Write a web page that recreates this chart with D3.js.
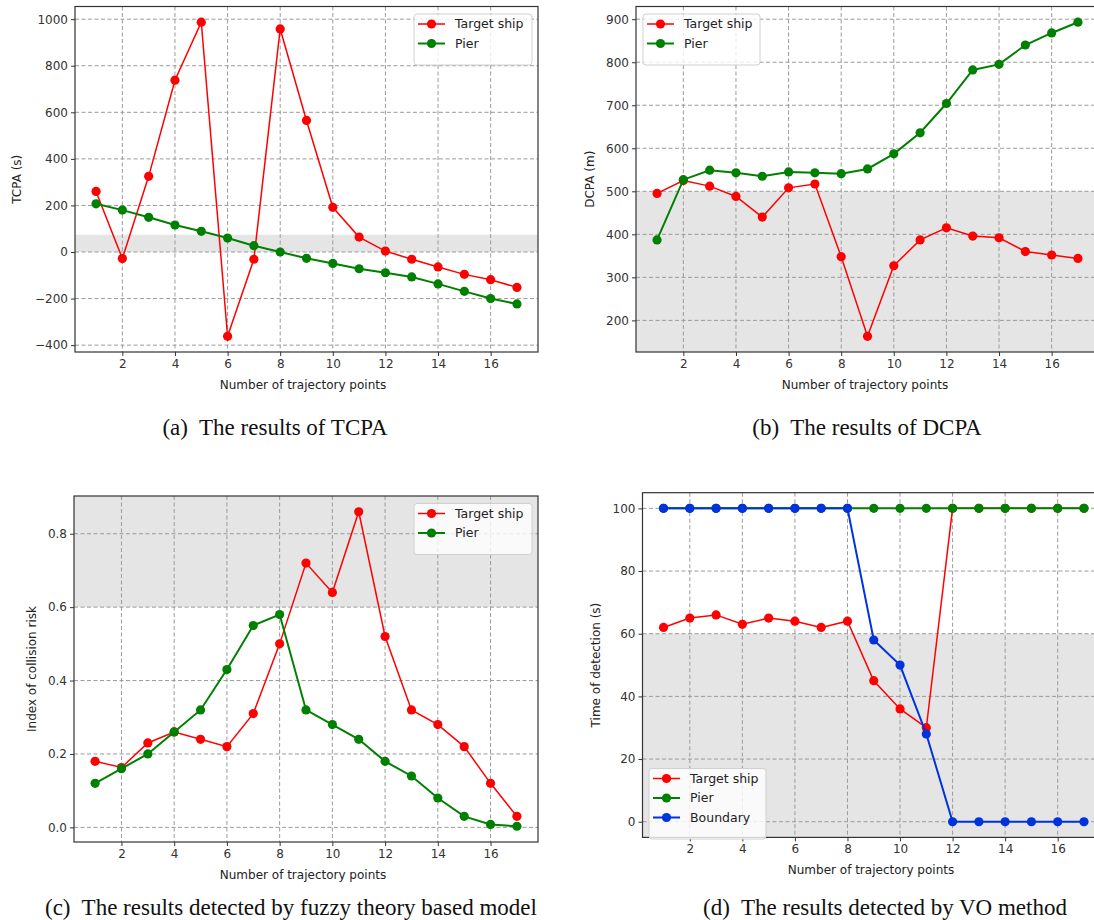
<!DOCTYPE html>
<html>
<head>
<meta charset="utf-8">
<script src="https://cdn.jsdelivr.net/npm/d3@7"></script>
<style>
  html, body { margin: 0; padding: 0; background: #fff; }
  svg { display: block; }
  .cap { white-space: pre; }
</style>
</head>
<body>
<svg id="chart" width="1094" height="920"></svg>
<script>
// ---------------- DATA ----------------
const trajectoryPoints = [1, 2, 3, 4, 5, 6, 7, 8, 9, 10, 11, 12, 13, 14, 15, 16, 17];
const xTicks = [2, 4, 6, 8, 10, 12, 14, 16];

const tcpaTarget = [260, -28, 325, 738, 987, -362, -31, 958, 565, 192, 64, 4, -31, -64, -96, -119, -152];
const tcpaPier   = [207, 180, 149, 116, 89, 60, 27, 0, -27, -49, -72, -89, -107, -137, -169, -200, -223];
const tcpaTicks  = [-400, -200, 0, 200, 400, 600, 800, 1000];
const tcpaBand   = [0, 74];

const dcpaTarget = [495, 525, 512, 488, 440, 508, 517, 348, 163, 327, 387, 415, 396, 392, 360, 352, 344];
const dcpaPier   = [387, 527, 549, 543, 535, 545, 543, 541, 552, 587, 636, 704, 782, 795, 840, 868, 893];
const dcpaTicks  = [200, 300, 400, 500, 600, 700, 800, 900];
const dcpaBand   = [null, 500];

const fuzzyTarget = [0.18, 0.163, 0.23, 0.26, 0.24, 0.22, 0.31, 0.50, 0.72, 0.64, 0.86, 0.52, 0.32, 0.28, 0.22, 0.12, 0.03];
const fuzzyPier   = [0.12, 0.16, 0.20, 0.26, 0.32, 0.43, 0.55, 0.58, 0.32, 0.28, 0.24, 0.18, 0.14, 0.08, 0.03, 0.008, 0.003];
const fuzzyTicks  = [0.0, 0.2, 0.4, 0.6, 0.8];
const fuzzyBand   = [0.6, null];

const voTarget   = [62, 65, 66, 63, 65, 64, 62, 64, 45, 36, 30, 100, 100, 100, 100, 100, 100];
const voPier     = [100, 100, 100, 100, 100, 100, 100, 100, 100, 100, 100, 100, 100, 100, 100, 100, 100];
const voBoundary = [100, 100, 100, 100, 100, 100, 100, 100, 58, 50, 28, 0, 0, 0, 0, 0, 0];
const voTicks    = [0, 20, 40, 60, 80, 100];
const voBand     = [null, 60];

const seriesNames  = ["Target ship", "Pier", "Boundary"];
const seriesColors = ["#ff0000", "#008000", "#0033dd"];
const seriesWidths = [1.5, 2, 2];

// ---------------- DRAWING ----------------
const svg = d3.select("#chart");
const FONT = "'DejaVu Sans', sans-serif";

function fmtTick(dec) {
  const f = d3.format(dec ? ".1f" : "d");
  return v => f(v).replace("-", "\u2212");
}

function drawPanel(cfg) {
  const g = svg.append("g");
  const { left, right, top, bottom } = cfg.box;
  const all = cfg.series.flatMap(s => s.values);
  const ymin = d3.min(all), ymax = d3.max(all), pad = (ymax - ymin) * 0.05;
  const x = d3.scaleLinear().domain([1 - 0.8, 17 + 0.8]).range([left, right]);
  const y = d3.scaleLinear().domain([ymin - pad, ymax + pad]).range([bottom, top]);

  const clipId = "clip" + cfg.id;
  svg.append("clipPath").attr("id", clipId).append("rect")
    .attr("x", left).attr("y", top).attr("width", right - left).attr("height", bottom - top);

  // background band
  const b0 = cfg.band[0] === null ? y.domain()[0] : cfg.band[0];
  const b1 = cfg.band[1] === null ? y.domain()[1] : cfg.band[1];
  g.append("rect")
    .attr("x", left).attr("width", right - left)
    .attr("y", y(b1)).attr("height", y(b0) - y(b1))
    .attr("fill", "#e5e5e5");

  // grid
  const grid = g.append("g").attr("stroke", "#9a9a9a").attr("stroke-width", 1)
    .attr("stroke-dasharray", "4,2.5");
  grid.selectAll(".gx").data(xTicks).join("line")
    .attr("x1", d => x(d)).attr("x2", d => x(d)).attr("y1", top).attr("y2", bottom);
  grid.selectAll(".gy").data(cfg.yTicks).join("line")
    .attr("x1", left).attr("x2", right).attr("y1", d => y(d)).attr("y2", d => y(d));

  // axes
  const xAxis = d3.axisBottom(x).tickValues(xTicks).tickSize(4).tickPadding(3).tickFormat(d3.format("d"));
  const yAxis = d3.axisLeft(y).tickValues(cfg.yTicks).tickSize(4).tickPadding(3).tickFormat(fmtTick(cfg.dec));
  const gx = g.append("g").attr("transform", `translate(0,${bottom})`).call(xAxis);
  const gy = g.append("g").attr("transform", `translate(${left},0)`).call(yAxis);
  [gx, gy].forEach(a => {
    a.select(".domain").remove();
    a.selectAll("line").attr("stroke", "#333").attr("stroke-width", 1);
    a.selectAll("text").attr("font-family", FONT).attr("font-size", 12).attr("fill", "#333");
  });

  // series
  const data = g.append("g").attr("clip-path", `url(#${clipId})`);
  const line = d3.line().x((d, i) => x(trajectoryPoints[i])).y(d => y(d));
  cfg.series.forEach(s => {
    data.append("path").datum(s.values)
      .attr("d", line).attr("fill", "none")
      .attr("stroke", seriesColors[s.k]).attr("stroke-width", seriesWidths[s.k]);
    data.append("g").selectAll("circle").data(s.values).join("circle")
      .attr("cx", (d, i) => x(trajectoryPoints[i])).attr("cy", d => y(d))
      .attr("r", 4.6).attr("fill", seriesColors[s.k]);
  });

  // frame
  g.append("rect").attr("x", left).attr("y", top)
    .attr("width", right - left).attr("height", bottom - top)
    .attr("fill", "none").attr("stroke", "#333").attr("stroke-width", 1.2);

  // labels
  g.append("text").attr("x", cfg.xlabel[1]).attr("y", cfg.xlabel[2]).attr("dy", "0.35em")
    .attr("text-anchor", "middle").attr("font-family", FONT).attr("font-size", 12).attr("fill", "#222")
    .text(cfg.xlabel[0]);
  g.append("text").attr("transform", `translate(${cfg.ylabel[1]},${(top + bottom) / 2}) rotate(-90)`)
    .attr("dy", "0.35em").attr("text-anchor", "middle").attr("font-family", FONT)
    .attr("font-size", 12).attr("fill", "#222").text(cfg.ylabel[0]);
  g.append("text").attr("class", "cap").attr("x", cfg.caption[1]).attr("y", cfg.caption[2])
    .attr("dy", "0.35em").attr("text-anchor", "middle")
    .attr("font-family", "'Liberation Serif', 'Times New Roman', serif")
    .attr("font-size", 23).attr("fill", "#111").text(cfg.caption[0]);

  // legend
  const L = cfg.legend;
  const rowH = 19.5;
  const lg = g.append("g");
  lg.append("rect").attr("x", L.x).attr("y", L.y)
    .attr("width", L.w).attr("height", 12 + rowH * cfg.series.length)
    .attr("rx", 3).attr("fill", "#fff").attr("fill-opacity", 0.8)
    .attr("stroke", "#d0d0d0").attr("stroke-width", 1);
  cfg.series.forEach((s, i) => {
    const cy = L.y + 10 + rowH * i;
    lg.append("line").attr("x1", L.x + 4).attr("x2", L.x + 31).attr("y1", cy).attr("y2", cy)
      .attr("stroke", seriesColors[s.k]).attr("stroke-width", seriesWidths[s.k]);
    lg.append("circle").attr("cx", L.x + 17.5).attr("cy", cy).attr("r", 4.6).attr("fill", seriesColors[s.k]);
    lg.append("text").attr("x", L.x + 41).attr("y", cy).attr("dy", "0.35em")
      .attr("font-family", FONT).attr("font-size", 12.5).attr("fill", "#222").text(seriesNames[s.k]);
  });
}

drawPanel({
  id: "a", box: { left: 75, right: 538, top: 6.5, bottom: 352 },
  series: [{ k: 0, values: tcpaTarget }, { k: 1, values: tcpaPier }],
  yTicks: tcpaTicks, dec: false, band: tcpaBand,
  xlabel: ["Number of trajectory points", 303, 385],
  ylabel: ["TCPA (s)", 17],
  caption: ["(a)  The results of TCPA", 275, 427],
  legend: { x: 414, y: 14, w: 118 }
});

drawPanel({
  id: "b", box: { left: 636, right: 1099, top: 6.5, bottom: 352 },
  series: [{ k: 0, values: dcpaTarget }, { k: 1, values: dcpaPier }],
  yTicks: dcpaTicks, dec: false, band: dcpaBand,
  xlabel: ["Number of trajectory points", 865, 385],
  ylabel: ["DCPA (m)", 590],
  caption: ["(b)  The results of DCPA", 867, 427],
  legend: { x: 643, y: 14, w: 117 }
});

drawPanel({
  id: "c", box: { left: 74, right: 538, top: 496, bottom: 842 },
  series: [{ k: 0, values: fuzzyTarget }, { k: 1, values: fuzzyPier }],
  yTicks: fuzzyTicks, dec: true, band: fuzzyBand,
  xlabel: ["Number of trajectory points", 303, 875],
  ylabel: ["Index of collision risk", 32],
  caption: ["(c)  The results detected by fuzzy theory based model", 291, 907],
  legend: { x: 414, y: 503.5, w: 118 }
});

drawPanel({
  id: "d", box: { left: 642.5, right: 1105, top: 492.7, bottom: 837.4 },
  series: [{ k: 0, values: voTarget }, { k: 1, values: voPier }, { k: 2, values: voBoundary }],
  yTicks: voTicks, dec: false, band: voBand,
  xlabel: ["Number of trajectory points", 871, 870],
  ylabel: ["Time of detection (s)", 596],
  caption: ["(d)  The results detected by VO method", 885, 907],
  legend: { x: 649, y: 768.5, w: 117 }
});
</script>
</body>
</html>
